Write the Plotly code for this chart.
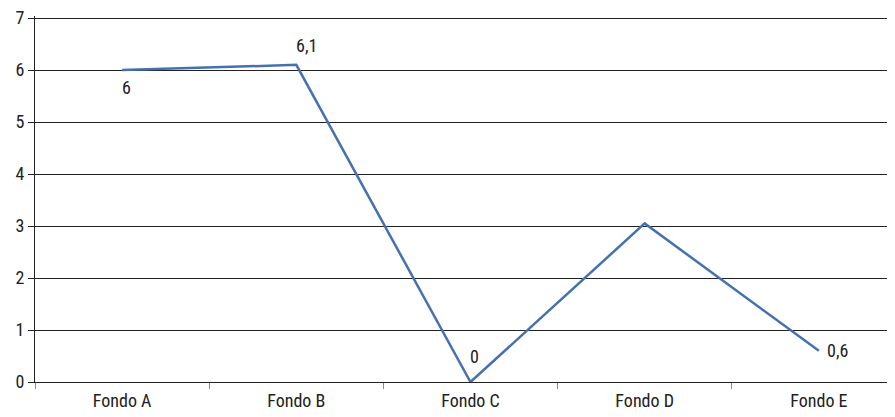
import plotly.graph_objects as go

categories = ["Fondo A", "Fondo B", "Fondo C", "Fondo D", "Fondo E"]
values = [6.0, 6.1, 0.0, 3.05, 0.6]
labels = ["6", "6,1", "0", "", "0,6"]
label_shifts = [(4, -17), (10, 19), (4, 26), (0, 0), (19, 0)]

FONT = "Liberation Sans Narrow, Roboto Condensed, Arial Narrow, sans-serif"

fig = go.Figure()
fig.add_trace(go.Scatter(
    x=categories, y=values, mode="lines",
    line=dict(color="#4571ad", width=2.5),
    hoverinfo="skip",
))

for c, v, t, (dx, dy) in zip(categories, values, labels, label_shifts):
    if t:
        fig.add_annotation(x=c, y=v, text=t, showarrow=False,
                           xshift=dx, yshift=dy,
                           font=dict(family=FONT, size=18, color="#222222"))

fig.update_layout(
    width=895, height=417,
    margin=dict(l=27, r=0, t=8, b=43, autoexpand=False),
    paper_bgcolor="white", plot_bgcolor="white",
    showlegend=False,
    font=dict(family=FONT, size=18, color="#222222"),
)
fig.update_xaxes(
    type="category", range=[-0.5, 4.483], automargin=False,
    showgrid=False, showline=True, linecolor="#222222", linewidth=1,
    ticks="outside", tickson="boundaries", ticklen=6, tickcolor="#888888",
    tickfont=dict(family=FONT, size=18, color="#222222"),
    ticklabelstandoff=2, ticklabeloverflow="allow",
)
fig.update_yaxes(
    range=[0, 7.04], dtick=1, tick0=0, automargin=False,
    showgrid=True, gridcolor="#222222", gridwidth=1,
    showline=True, linecolor="#222222", linewidth=1,
    ticks="outside", ticklen=6, tickcolor="#222222",
    tickfont=dict(family=FONT, size=18, color="#222222"),
    ticklabeloverflow="allow",
    zeroline=False,
)

fig.write_html("out.html")
